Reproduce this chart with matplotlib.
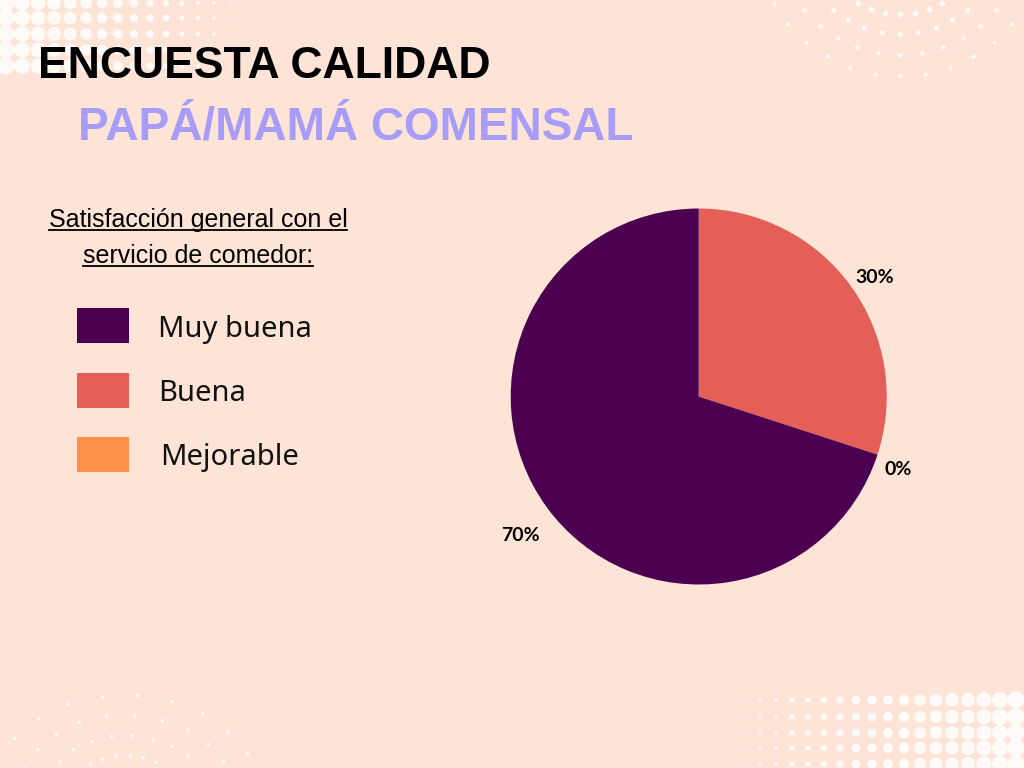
import numpy as np
import matplotlib
matplotlib.use("Agg")
import matplotlib.pyplot as plt
import matplotlib.patches as patches

# --- datos ---
categorias = ["Muy buena", "Buena", "Mejorable"]
porcentajes = [70, 30, 0]
colores = ["#4B0050", "#E35F58", "#FF914D"]
orden_pie = [1, 2, 0]  # Buena, Mejorable, Muy buena (sentido horario desde arriba)

titulo = "ENCUESTA CALIDAD"
subtitulo = "PAPÁ/MAMÁ COMENSAL"
pregunta = ["Satisfacción general con el", "servicio de comedor:"]

FONDO = "#FDE4D6"
W, H = 1024, 768

fig = plt.figure(figsize=(W / 100, H / 100), dpi=100, facecolor=FONDO)

# capa de fondo en coordenadas de pixel
bg = fig.add_axes([0, 0, 1, 1])
bg.set_xlim(0, W)
bg.set_ylim(H, 0)
bg.axis("off")
bg.set_facecolor(FONDO)


def puntos(ax, xs, ys, diam):
    ax.scatter(xs, ys, s=(np.asarray(diam) * 0.72) ** 2, color="white",
               linewidths=0, alpha=0.85, zorder=1)


# trama de puntos arriba a la izquierda
for y in [3, 18, 34, 50, 66]:
    xs = np.arange(6, 240, 16)
    d = np.clip(17 - (xs - 6) * 15.5 / 234, 1.2, None)
    puntos(bg, xs, np.full_like(xs, y), d)

# trama de puntos abajo a la derecha
for y in [700, 717, 733, 748, 764]:
    xs = np.arange(728, 1030, 16)
    d = np.clip(1 + (xs - 728) * 16 / 288, 1, None)
    puntos(bg, xs, np.full_like(xs, y), d)

# arcos de puntos (arriba derecha y abajo izquierda)
for r, dd in [(84, 5.5), (104, 5), (125, 4.5), (146, 4)]:
    ang = np.deg2rad(np.arange(-80, 81, 10))
    xs = 900 + r * np.sin(ang)
    ys = -70 + r * np.cos(ang)
    m = (ys > 0) & (xs > 760)
    puntos(bg, xs[m], ys[m], dd)
for r, dd in [(100, 3.5), (80, 3.5), (60, 3.5), (40, 3.5)]:
    ang = np.deg2rad(np.arange(-100, 101, 15))
    xs = 125 + r * 1.35 * np.sin(ang)
    ys = 795 - r * np.cos(ang)
    m = ys < 768
    puntos(bg, xs[m], ys[m], dd)

# titulos
bg.text(38, 78, titulo, fontsize=32, fontweight="bold", color="black",
        family=["Liberation Sans"], va="baseline", ha="left", zorder=3)
bg.text(78, 139, subtitulo, fontsize=33, fontweight="bold", color="#A79CF8",
        family=["Liberation Sans"], va="baseline", ha="left", zorder=3)

# pregunta subrayada
renderer = fig.canvas.get_renderer()
for linea, yb in zip(pregunta, [227, 263]):
    t = bg.text(198, yb, linea, fontsize=18, color="black",
                family=["Liberation Sans"], ha="center", va="baseline", zorder=3)
    bb = t.get_window_extent(renderer=renderer)
    x0 = bb.x0 * 100 / fig.dpi
    x1 = bb.x1 * 100 / fig.dpi
    bg.plot([x0, x1], [yb + 3, yb + 3], color="black", linewidth=1.3, zorder=3)

# leyenda
for i, (cat, col) in enumerate(zip(categorias, colores)):
    y = 308 + i * 64.5
    bg.add_patch(patches.Rectangle((77, y), 52, 35, facecolor=col,
                                   edgecolor="none", zorder=3))
    bg.text(158 if i < 2 else 160, y + 21, cat, fontsize=21, color="#111111",
            family=["Noto Sans"], ha="left", va="center", zorder=3)

# pie
cx, cy, r = 698.7, 396.5, 188
ax = fig.add_axes([(cx - r) / W, (H - cy - r) / H, 2 * r / W, 2 * r / H])
ax.set_facecolor("none")
vals = [porcentajes[i] for i in orden_pie]
cols = [colores[i] for i in orden_pie]
etiquetas = [f"{porcentajes[i]}%" for i in orden_pie]
wedges, textos = ax.pie(vals, colors=cols, labels=etiquetas, startangle=90,
                        counterclock=False, labeldistance=1.15, radius=1,
                        wedgeprops=dict(linewidth=0),
                        textprops=dict(fontsize=14, fontweight="bold",
                                       family=["Lato"], color="black"))
for t in textos:
    t.set_ha("center")
    t.set_va("center")
textos[2].set_position((np.cos(np.deg2rad(-142)) * 1.2, np.sin(np.deg2rad(-142)) * 1.2))
textos[1].set_position((np.cos(np.deg2rad(-20)) * 1.13, np.sin(np.deg2rad(-20)) * 1.13))
textos[0].set_position((np.cos(np.deg2rad(34)) * 1.13, np.sin(np.deg2rad(34)) * 1.13))
ax.set_xlim(-1, 1)
ax.set_ylim(-1, 1)
ax.set_aspect("equal")

fig.savefig("out.png", dpi=100, facecolor=FONDO)
